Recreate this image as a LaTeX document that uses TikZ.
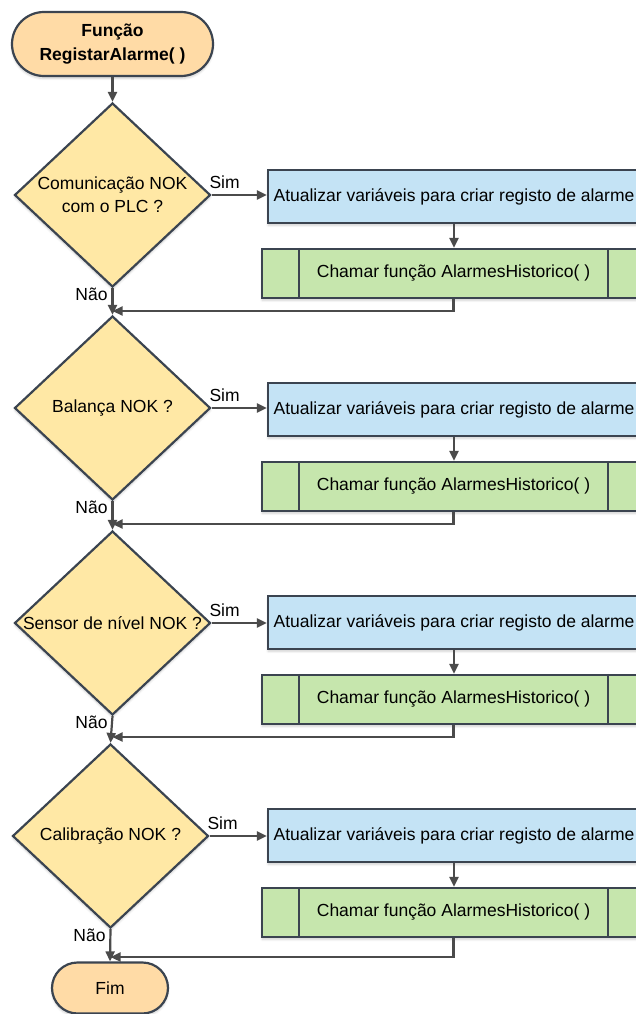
\documentclass[tikz,border=0pt]{standalone}
\usepackage{fontspec}
\setmainfont{Liberation Sans}
\usetikzlibrary{shapes.geometric,arrows.meta,shadows.blur}
\definecolor{outline}{HTML}{3B4450}
\definecolor{wire}{HTML}{4B4B4B}
\definecolor{termfill}{HTML}{FFDBA6}
\definecolor{askfill}{HTML}{FFE8A5}
\definecolor{actfill}{HTML}{C4E3F5}
\definecolor{callfill}{HTML}{C6E6AD}
\begin{document}
\begin{tikzpicture}[x=1pt,y=-1pt,
  font=\fontsize{17.5}{23}\selectfont,
  softshadow/.style={blur shadow={shadow xshift=0pt,shadow yshift=-2.5pt,shadow blur steps=6,shadow opacity=18}},
  boxline/.style={draw=outline,line width=2.2pt},
  terminal/.style={boxline,softshadow,rectangle,fill=termfill,align=center,inner sep=0pt},
  decision/.style={boxline,softshadow,diamond,fill=askfill,inner sep=0pt,
    minimum width=196pt,minimum height=184pt},
  action/.style={boxline,softshadow,rectangle,fill=actfill,inner sep=0pt,
    minimum width=372pt,minimum height=53pt},
  callbox/.style={boxline,softshadow,rectangle,fill=callfill,inner sep=0pt,
    minimum width=383pt,minimum height=49pt},
  qtext/.style={align=center,inner sep=0pt},
  lbl/.style={inner sep=0pt},
  flow/.style={draw=wire,line width=2.2pt,-{Triangle[length=10pt,width=9pt]}},
]
\useasboundingbox (0,0) rectangle (636,1014);
\clip (0,0) rectangle (636,1014);

% start and end terminals
\node[terminal,rounded corners=32pt,minimum width=201pt,minimum height=64pt,
  font=\fontsize{17.5}{24}\selectfont\bfseries] (start) at (112.5,44) {Função\\RegistarAlarme( )};
\node[terminal,rounded corners=25.5pt,minimum width=116pt,minimum height=51pt] (fim) at (110,988) {Fim};

% the four alarm checks
\foreach \i/\dx/\dy/\by/\gy/\my/\txt in {
  1/112.5/195/196.5/273.5/311/{Comunicação NOK\\com o PLC ?},
  2/112.5/408/409.5/486.5/524/{Balança NOK ?},
  3/112.5/623/622.5/699.5/737/{Sensor de nível NOK ?},
  4/110.5/836/835.5/912.5/957/{Calibração NOK ?}}{
  \node[decision] (d\i) at (\dx,\dy) {};
  \node[qtext] (q\i) at (d\i.center) {\txt};
  \node[action] (b\i) at (454,\by) {Atualizar variáveis para criar registo de alarme};
  \node[callbox] (g\i) at (453.5,\gy) {Chamar função AlarmesHistorico( )};
  \draw[boxline] ([xshift=38pt]g\i.north west) -- ([xshift=38pt]g\i.south west);
  \draw[boxline] ([xshift=-38pt]g\i.north east) -- ([xshift=-38pt]g\i.south east);
  \coordinate (m\i) at (\dx,\my);
  \draw[flow] (d\i.east) -- (d\i.east -| b\i.west);
  \draw[flow] (b\i.south) -- (b\i.south |- g\i.north);
  \draw[flow] (g\i.south) |- (m\i);
  \node[lbl] (s\i) at ([shift={(13,-13)}]d\i.east) {Sim};
  \node[lbl] (n\i) at ([shift={(-21,6)}]d\i.south) {Não};
}

% main spine
\draw[flow] (start.south) -- (d1.north);
\draw[flow] (d1.south) -- (d2.north);
\draw[flow] (d2.south) -- (d3.north);
\draw[flow] (d3.south) -- (d4.north);
\draw[flow] (d4.south) -- (fim.north);
\end{tikzpicture}
\end{document}
